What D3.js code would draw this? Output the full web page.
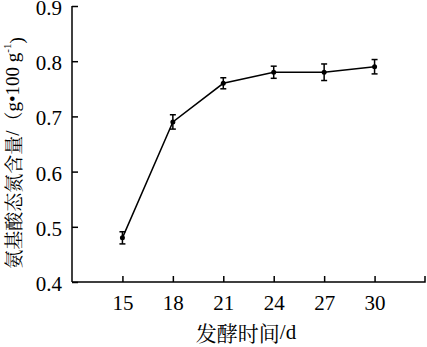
<!DOCTYPE html>
<html lang="zh">
<head>
<meta charset="UTF-8">
<title>氨基酸态氮含量</title>
<script src="https://d3js.org/d3.v7.min.js"></script>
<style>
    body { margin: 0; background: #fff; }
</style>
</head>
<body>
<script>
    var days = [15, 18, 21, 24, 27, 30];
    var nitrogen = [0.48, 0.69, 0.76, 0.78, 0.78, 0.79];
    var errors = [0.011, 0.013, 0.01, 0.011, 0.015, 0.013];
    var yTicks = [0.4, 0.5, 0.6, 0.7, 0.8, 0.9];

    var SERIF = "'Liberation Serif'";
    var CJK = "'Noto Serif CJK SC'";

    var W = 427, H = 347;
    var plotLeft = 72, plotRight = 425, plotTop = 6, plotBottom = 282;

    var svg = d3.select("body").append("svg")
        .attr("width", W)
        .attr("height", H);

    var x = d3.scaleLinear().domain([12, 33]).range([plotLeft, plotRight]);
    var y = d3.scaleLinear().domain([0.4, 0.9]).range([plotBottom, plotTop]);

    var data = days.map(function (d, i) {
        return {day: d, val: nitrogen[i], err: errors[i]};
    });

    // y axis, ticks pointing inward
    var gy = svg.append("g")
        .attr("transform", "translate(" + plotLeft + ",0)")
        .call(d3.axisLeft(y).tickValues(yTicks).tickSize(-6).tickPadding(10)
            .tickFormat(d3.format(".1f")));
    gy.attr("font-family", null).attr("font-size", null);
    gy.select(".domain").attr("stroke-width", 1.5).attr("d", "M0," + plotTop + "V" + plotBottom);
    gy.selectAll(".tick line").attr("stroke-width", 1.5);
    gy.selectAll(".tick text").style("font-size", "21px")
        .style("font-family", SERIF).attr("dy", "0.4em");

    // x axis, ticks pointing up
    var gx = svg.append("g")
        .attr("transform", "translate(0," + plotBottom + ")")
        .call(d3.axisBottom(x).tickValues(days).tickSize(-6));
    gx.attr("font-family", null).attr("font-size", null);
    gx.select(".domain").attr("stroke-width", 1.5).attr("d", "M" + plotLeft + ",0H" + plotRight + "V-6");
    gx.selectAll(".tick line").attr("stroke-width", 1.5);
    gx.selectAll(".tick text").style("font-size", "21px").style("font-family", SERIF)
        .attr("y", 21).attr("dy", "0.35em");

    // line
    svg.append("path")
        .datum(data)
        .attr("fill", "none")
        .attr("stroke", "#000")
        .attr("stroke-width", 1.5)
        .attr("d", d3.line().x(function (d) { return x(d.day); }).y(function (d) { return y(d.val); }));

    // error bars
    var eb = svg.selectAll(".err").data(data).enter().append("g")
        .attr("stroke", "#000").attr("stroke-width", 1.5);
    eb.append("line")
        .attr("x1", function (d) { return x(d.day); })
        .attr("x2", function (d) { return x(d.day); })
        .attr("y1", function (d) { return y(d.val + d.err); })
        .attr("y2", function (d) { return y(d.val - d.err); });
    eb.append("line")
        .attr("x1", function (d) { return x(d.day) - 3; })
        .attr("x2", function (d) { return x(d.day) + 3; })
        .attr("y1", function (d) { return y(d.val + d.err); })
        .attr("y2", function (d) { return y(d.val + d.err); });
    eb.append("line")
        .attr("x1", function (d) { return x(d.day) - 3; })
        .attr("x2", function (d) { return x(d.day) + 3; })
        .attr("y1", function (d) { return y(d.val - d.err); })
        .attr("y2", function (d) { return y(d.val - d.err); });

    svg.selectAll(".dot").data(data).enter().append("circle")
        .attr("cx", function (d) { return x(d.day); })
        .attr("cy", function (d) { return y(d.val); })
        .attr("r", 2.5)
        .attr("fill", "#000");

    // x title
    var xt = svg.append("text")
        .attr("x", 246).attr("y", 332)
        .attr("text-anchor", "middle")
        .attr("dominant-baseline", "central")
        .attr("fill", "#000")
        .style("font-family", SERIF)
        .style("font-size", "21px");
    xt.append("tspan").style("font-family", CJK).text("发酵时间");
    xt.append("tspan").text("/d");

    // y title
    var yt = svg.append("text")
        .attr("transform", "translate(12,153) rotate(-90)")
        .attr("text-anchor", "middle")
        .attr("dominant-baseline", "central")
        .attr("fill", "#000")
        .style("font-family", SERIF)
        .style("font-size", "19px");
    yt.append("tspan").style("font-family", CJK).text("氨基酸态氮含量");
    yt.append("tspan").text("/");
    yt.append("tspan").style("font-family", CJK).text("（");
    yt.append("tspan").text("g•100 g");
    yt.append("tspan").attr("dy", "-0.45em").style("font-size", "11px").text("-1");
    yt.append("tspan").attr("dy", "0.45em").text(")");
</script>
</body>
</html>
